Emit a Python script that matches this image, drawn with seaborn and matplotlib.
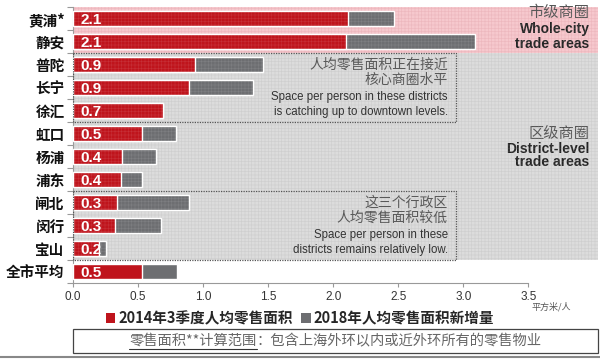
import matplotlib
matplotlib.use("Agg")
import matplotlib.pyplot as plt
import seaborn as sns
from matplotlib.patches import Rectangle, Patch
from matplotlib.lines import Line2D

# === Data ===
districts = ["黄浦*", "静安", "普陀", "长宁", "徐汇", "虹口", "杨浦", "浦东",
             "闸北", "闵行", "宝山", "全市平均"]
space_2014q3 = [2.11, 2.10, 0.94, 0.89, 0.69, 0.53, 0.38, 0.37, 0.34, 0.32, 0.20, 0.53]
added_2018 = [0.36, 0.99, 0.52, 0.49, 0.00, 0.26, 0.26, 0.16, 0.55, 0.355, 0.05, 0.27]
x_ticks = [0.0, 0.5, 1.0, 1.5, 2.0, 2.5, 3.0, 3.5]

legend_2014 = "2014年3季度人均零售面积"
legend_2018 = "2018年人均零售面积新增量"
footnote_a = "零售面积**计算范围"
footnote_b = "：包含上海外环以内或近外环所有的零售物业"

totals = [a + b for a, b in zip(space_2014q3, added_2018)]

RED = "#BF141C"
GREY = "#6D6E71"
EN = ["Liberation Sans", "DejaVu Sans"]

sns.set_style("white")
plt.rcParams["font.family"] = ["Noto Sans CJK SC", "DejaVu Sans"]
plt.rcParams["hatch.linewidth"] = 0.4

fig = plt.figure(figsize=(6, 3.59), dpi=100)
ax = fig.add_axes([0.1217, 0.2117, 0.875, 0.7688])

# === Stacked bars: grey total behind, red 2014 value in front ===
sns.barplot(x=totals, y=districts, color=GREY, width=0.62, saturation=1,
            ax=ax, zorder=2)
sns.barplot(x=space_2014q3, y=districts, color=RED, width=0.62, saturation=1,
            ax=ax, zorder=3)

ax.set_xlim(0, 4.035)
ax.set_ylim(11.5, -0.5)

# === Background zones ===
ax.add_patch(Rectangle((0, -0.5), 4.035, 2.0, facecolor="#F6C8CD",
                       edgecolor="#EBAEB4", hatch="+++++", lw=0, zorder=0))
ax.add_patch(Rectangle((0, 1.5), 4.035, 9.0, facecolor="#DCDCDC",
                       edgecolor="#C8C8C8", hatch="+++++", lw=0, zorder=0))
# faint grid over bars
ax.add_patch(Rectangle((0, -0.5), 4.035, 11.0, fill=False,
                       edgecolor=(1, 1, 1, 0.12), hatch="+++++", lw=0, zorder=4))

# dotted boxes
for y0 in (1.5, 7.5):
    ax.add_patch(Rectangle((0, y0), 2.94, 3.0, fill=False, edgecolor="#555555",
                           lw=0.9, linestyle=(0, (1, 1)), zorder=5))

# bar value labels
for i, v in enumerate(space_2014q3):
    ax.text(0.06, i + 0.05, f"{v:.1f}", color="white", fontsize=11,
            fontweight="bold", va="center", ha="left", family=EN, zorder=6)

# zone labels on the right
ax.text(3.97, -0.28, "市级商圈", ha="right", va="center", fontsize=11, color="#555555")
ax.text(3.97, 0.46, "Whole-city", ha="right", va="center", fontsize=10,
        fontweight="bold", color="#222222", family=EN)
ax.text(3.97, 1.1, "trade areas", ha="right", va="center", fontsize=10,
        fontweight="bold", color="#222222", family=EN)
ax.text(3.97, 4.98, "区级商圈", ha="right", va="center", fontsize=11, color="#555555")
ax.text(3.97, 5.68, "District-level", ha="right", va="center", fontsize=10,
        fontweight="bold", color="#222222", family=EN)
ax.text(3.97, 6.25, "trade areas", ha="right", va="center", fontsize=10,
        fontweight="bold", color="#222222", family=EN)

# notes inside the dotted boxes
note_col = "#595959"
ax.text(2.88, 2.02, "人均零售面积正在接近", ha="right", va="center", fontsize=10, color=note_col, zorder=6)
ax.text(2.88, 2.67, "核心商圈水平", ha="right", va="center", fontsize=10, color=note_col, zorder=6)
ax.text(2.88, 3.41, "Space per person in these districts", ha="right", va="center",
        fontsize=8.3, color="#333333", family=EN, zorder=6)
ax.text(2.88, 4.07, "is catching up to downtown levels.", ha="right", va="center",
        fontsize=8.3, color="#333333", family=EN, zorder=6)
ax.text(2.88, 8.02, "这三个行政区", ha="right", va="center", fontsize=10, color=note_col, zorder=6)
ax.text(2.88, 8.67, "人均零售面积较低", ha="right", va="center", fontsize=10, color=note_col, zorder=6)
ax.text(2.88, 9.41, "Space per person in these", ha="right", va="center",
        fontsize=8.3, color="#333333", family=EN, zorder=6)
ax.text(2.88, 10.07, "districts remains relatively low.", ha="right", va="center",
        fontsize=8.3, color="#333333", family=EN, zorder=6)

# === Axes styling ===
for s in ["top", "right"]:
    ax.spines[s].set_visible(False)
for s in ["left", "bottom"]:
    ax.spines[s].set_color("#999999")
    ax.spines[s].set_linewidth(0.8)
ax.spines["bottom"].set_bounds(0, 3.5)
ax.set_xticks(x_ticks)
ax.set_xticklabels([f"{t:.1f}" for t in x_ticks], family=EN)
ax.tick_params(axis="x", labelsize=8.5, labelcolor="#333333", color="#999999",
               length=3, width=0.8, direction="out", bottom=True, pad=3)
ax.set_yticks(range(len(districts)))
ax.set_yticklabels(districts, fontsize=10.5, fontweight="bold", color="#111111")
ax.set_yticks([i - 0.5 for i in range(len(districts) + 1)], minor=True)
ax.tick_params(axis="y", which="major", length=0, pad=6)
ax.tick_params(axis="y", which="minor", length=4, width=0.8, color="#999999", left=True)
ax.set_xlabel("")
ax.set_ylabel("")
ax.text(3.52, -0.085, "平方米/人", transform=ax.get_xaxis_transform(),
        fontsize=6.5, color="#555555", va="center", ha="left")

# === Legend ===
handles = [Patch(facecolor=RED, edgecolor="none"), Patch(facecolor=GREY, edgecolor="none")]
fig.legend(handles, [legend_2014, legend_2018], loc="center", bbox_to_anchor=(0.5, 0.113),
           ncol=2, frameon=False, handlelength=0.65, handleheight=0.65,
           handletextpad=0.2, columnspacing=0.6,
           prop={"family": ["Noto Sans CJK SC", "DejaVu Sans"], "weight": "bold", "size": 10.5})

# === Footnote box ===
fig.patches.append(Rectangle((0.1217, 0.0167), 0.875, 0.067, transform=fig.transFigure,
                             fill=False, edgecolor="#444444", lw=0.9))
fig.add_artist(Line2D([0, 1], [0.0056, 0.0056], transform=fig.transFigure,
                      color="#888888", lw=1.5))
t1 = fig.text(0.2, 0.05, footnote_a, fontsize=10.3, color="#666666", va="center", ha="left")
t2 = fig.text(0.4, 0.05, footnote_b, fontsize=10.3, color="#666666", va="center", ha="left")
fig.canvas.draw()
r = fig.canvas.get_renderer()
b1 = t1.get_window_extent(r)
b2 = t2.get_window_extent(r)
W = fig.bbox.width
total_w = b1.width + b2.width
x0 = (0.1217 + 0.875 / 2) - total_w / W / 2
t1.set_x(x0)
t2.set_x(x0 + b1.width / W)
fig.add_artist(Line2D([x0, x0 + b1.width / W], [0.028, 0.028], transform=fig.transFigure,
                      color="#333333", lw=0.8))

fig.savefig("out.png", dpi=100)
